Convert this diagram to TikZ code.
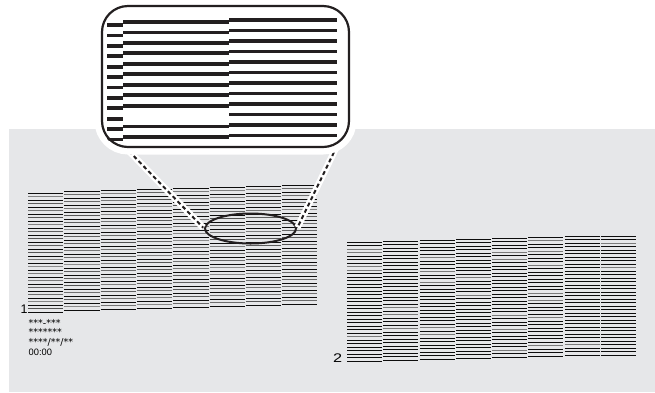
\documentclass[tikz,border=0pt]{standalone}
\usepackage{fontspec}
\setmainfont{Liberation Sans}
\newfontfamily\dvsans{DejaVu Sans}
\usetikzlibrary{shapes.geometric,calc}
\definecolor{cPaper}{RGB}{230,231,233}
\definecolor{cInk}{RGB}{35,31,32}

\begin{document}
\begin{tikzpicture}[x=1pt, y=-1pt,
  pline/.style={line width=1.4pt},
  zline/.style={line width=3.8pt, cInk},
  zoomframe/.style={draw=cInk, line width=2.2pt, fill=white, rounded corners=26pt,
    minimum width=247pt, minimum height=141pt, preaction={draw=white, line width=15pt}},
  ring/.style={ellipse, draw=cInk, line width=2pt, minimum width=91pt, minimum height=30pt},
  leader/.style={draw=cInk, line width=2pt, dash pattern=on 4pt off 3pt, shorten >=1.2pt,
    preaction={draw=white, line width=6.5pt, solid}},
  num/.style={font=\fontsize{12.5}{13}\selectfont, inner sep=0pt, anchor=base west},
  info/.style={font=\dvsans\fontsize{9.5}{10}\selectfont, inner sep=0pt, anchor=base west}]
\useasboundingbox (0,0) rectangle (655,392);
\fill[cPaper] (9,129) rectangle (655,392);
\begin{scope}
  \pgfmathsetseed{21}
  \foreach \i in {0,...,7}{
    \foreach \j in {0,...,34}{
      \pgfmathtruncatemacro\tone{mod(\j,2)==0 ? 95 : 45+25*rnd}
      \draw[pline, black!\tone] ({28+36.3*\i},{floor(193-1.1*\i)+floor(3.5*\j)+0.5}) -- ++(35.3,0);}}
\end{scope}
\begin{scope}
  \pgfmathsetseed{5}
  \foreach \i in {0,...,7}{
    \foreach \j in {0,...,34}{
      \pgfmathtruncatemacro\tone{rnd<0.13 ? 52 : 95}
      \draw[pline, black!\tone] ({347+36.25*\i},{floor(242-0.85*\i)+floor(3.5*\j)+0.5}) -- ++(35,0);}}
\end{scope}
\node[num] (n1) at (20.3,313) {1};
\node[num] (n2) at (333,362) {\scalebox{1.3}[1]{2}};
\node[info] (t1) at (28.5,326) {***-***};
\node[info] (t2) at (28.5,335.5) {*******};
\node[info] (t3) at (28.5,345) {****/**/**};
\node[num, font=\fontsize{9.3}{10}\selectfont] (t4) at (28.5,355) {00:00};
\node[ring] (spot) at (250.5,228.5) {};
\coordinate (zoomL) at (124,146);
\coordinate (zoomR) at (337,146);
\draw[leader] (zoomL) -- (spot.west);
\draw[leader] (zoomR) -- (spot.east);
\node[zoomframe] (zoom) at (225.5,76.5) {};
\begin{scope}
  \clip[rounded corners=26pt] (zoom.south west) rectangle (zoom.north east);
  \foreach \k in {0,...,11}{
    \draw[zline] (107,{25+10.4*\k}) -- (123,{25+10.4*\k});
    \draw[zline] (229,{20+10.5*\k}) -- (337,{20+10.5*\k});}
  \foreach \k in {0,...,8,10,11}{
    \draw[zline] (123,{22+10.45*\k}) -- (229,{22+10.45*\k});}
\end{scope}
\end{tikzpicture}
\end{document}
